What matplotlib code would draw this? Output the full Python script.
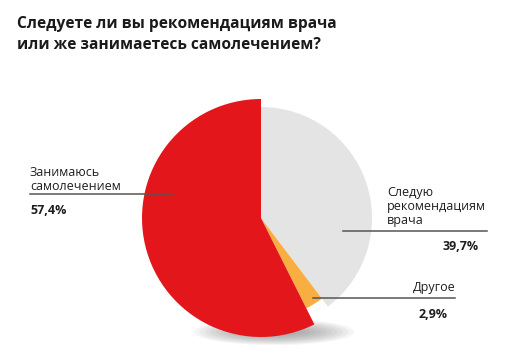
import matplotlib.pyplot as plt
from matplotlib.patches import Ellipse

# data
labels = ["Следую\nрекомендациям\nврача", "Другое", "Занимаюсь\nсамолечением"]
values = [39.7, 2.9, 57.4]
value_labels = ["39,7%", "2,9%", "57,4%"]
colors = ["#e4e4e4", "#f9ae42", "#e3171b"]
title = "Следуете ли вы рекомендациям врача\nили же занимаетесь самолечением?"

W, H = 520, 364
plt.rcParams["font.family"] = ["Open Sans", "DejaVu Sans"]

fig = plt.figure(figsize=(W / 100, H / 100), dpi=100)
ax = fig.add_axes([0, 0, 1, 1])


def Y(y):
    # pixel row (top-down) -> data y
    return H - y


cx, cy = 261, 218
wedges, _ = ax.pie(values, colors=colors, startangle=90, counterclock=False,
                   center=(cx, Y(cy)), radius=111,
                   wedgeprops=dict(linewidth=0))
wedges[1].set_radius(101)
wedges[2].set_radius(119)
for w in wedges:
    w.set_zorder(3)

# soft shadow under the pie
for i in range(10):
    ax.add_patch(Ellipse((274, Y(332)), 160 - i * 11, 26 - i * 2,
                         facecolor="#7a7a7a", alpha=0.08, lw=0, zorder=1))

ax.text(17, Y(16), title, fontsize=11.2, fontweight="bold", color="#1a1a1a",
        va="top", ha="left", linespacing=1.45)

line_kw = dict(color="#555555", lw=1.1, zorder=4)
txt = "#1e1e1e"

# left label
ax.plot([30, 172], [Y(194), Y(194)], **line_kw)
ax.text(30, Y(193), labels[2], fontsize=9, va="bottom", ha="left",
        color=txt, linespacing=1.15)
ax.text(30, Y(211), value_labels[2], fontsize=9, fontweight="bold",
        va="center", ha="left", color=txt)

# right label
ax.plot([343, 487], [Y(231), Y(231)], **line_kw)
ax.text(387, Y(227), labels[0], fontsize=9, va="bottom", ha="left",
        color=txt, linespacing=1.1)
ax.text(479, Y(247), value_labels[0], fontsize=9, fontweight="bold",
        va="center", ha="right", color=txt)

# small slice label
ax.plot([313, 455], [Y(298), Y(298)], **line_kw)
ax.text(456, Y(294), labels[1], fontsize=9, va="bottom", ha="right",
        color=txt)
ax.text(448, Y(315), value_labels[1], fontsize=9, fontweight="bold",
        va="center", ha="right", color=txt)

ax.set_xlim(0, W)
ax.set_ylim(0, H)
ax.set_aspect("auto")
ax.axis("off")

fig.savefig("out.png", dpi=100)
